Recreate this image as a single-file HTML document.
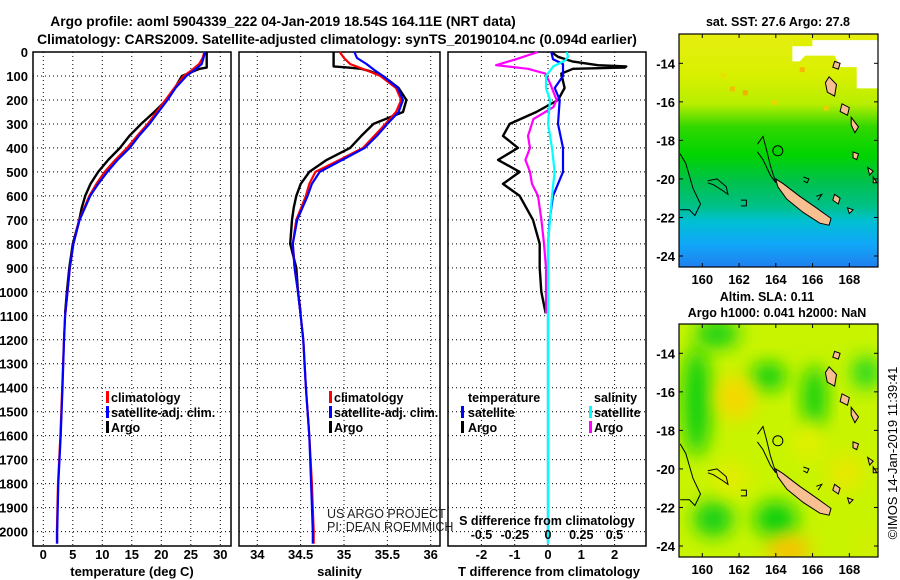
<!DOCTYPE html>
<html><head><meta charset="utf-8"><style>
html,body{margin:0;padding:0;background:#fff;}
svg{display:block;font-family:"Liberation Sans",Arial,sans-serif;}
.b{font-weight:bold;}
</style></head><body>
<svg id="fig" width="900" height="580" viewBox="0 0 900 580" xmlns="http://www.w3.org/2000/svg">
<defs>
<linearGradient id="sstGrad" x1="0" y1="0" x2="0" y2="1">
<stop offset="0" stop-color="#e6ee10"/><stop offset="0.18" stop-color="#d8f000"/><stop offset="0.3" stop-color="#b8ee00"/>
<stop offset="0.4" stop-color="#30d800"/><stop offset="0.52" stop-color="#00d400"/><stop offset="0.64" stop-color="#00c050"/>
<stop offset="0.74" stop-color="#00c088"/><stop offset="0.8" stop-color="#00c0d0"/><stop offset="0.9" stop-color="#10a8f8"/><stop offset="1" stop-color="#2080f0"/>
</linearGradient>
<filter id="blur" x="-50%" y="-50%" width="200%" height="200%"><feGaussianBlur stdDeviation="9"/></filter>
<clipPath id="clipTop"><rect x="679" y="34" width="199" height="233"/></clipPath>
<clipPath id="clipBot"><rect x="679" y="324" width="199" height="233"/></clipPath>
</defs>
<g id="titles">
<text class="b" x="283" y="26" font-size="13.8" text-anchor="middle">Argo profile: aoml 5904339_222 04-Jan-2019 18.54S 164.11E (NRT data)</text>
<text class="b" x="337" y="44" font-size="13.8" text-anchor="middle">Climatology: CARS2009. Satellite-adjusted climatology: synTS_20190104.nc (0.094d earlier)</text>
</g>
<g id="panels"></g>
<g id="maps"></g>
<text x="0" y="0" font-size="13" text-anchor="middle" transform="translate(897,453) rotate(-90)">©IMOS 14-Jan-2019 11:39:41</text>
</svg>
<script>
// ---- depth axis ----
var depthTicks = [0,100,200,300,400,500,600,700,800,900,1000,1100,1200,1300,1400,1500,1600,1700,1800,1900,2000];
// ---- climatology / satellite profile ----
var climDepth = [0,25,50,75,100,150,200,250,300,350,400,450,500,550,600,700,800,900,1000,1100,1200,1400,1600,1800,2000,2050];
var climTemp = [27.3,27.0,26.4,25.2,23.8,22.2,20.7,19.2,17.7,15.9,14.2,12.2,10.4,9.0,7.8,6.1,5.1,4.5,4.1,3.7,3.5,3.2,2.9,2.5,2.3,2.3];
var satTemp = [27.4,27.15,26.85,25.65,24.25,22.4,21.05,19.5,18.0,16.2,14.65,12.6,10.85,9.3,7.95,6.15,5.1,4.5,4.1,3.7,3.5,3.25,2.95,2.55,2.35,2.35];
var climSal = [34.95,35.0,35.07,35.25,35.42,35.6,35.66,35.6,35.48,35.35,35.22,34.95,34.67,34.6,34.56,34.45,34.41,34.43,34.47,34.5,34.53,34.56,34.6,34.63,34.65,34.65];
var satSal = [35.12,35.15,35.26,35.35,35.45,35.62,35.68,35.63,35.5,35.38,35.24,34.98,34.72,34.63,34.58,34.46,34.41,34.43,34.47,34.5,34.53,34.56,34.6,34.62,34.64,34.64];
// ---- Argo profile ----
var argoDepth = [0,10,30,60,65,70,80,100,150,200,250,300,350,400,450,500,550,600,650,700,800,900,1000,1090];
var argoTemp = [27.7,27.7,27.7,27.7,27.7,26.5,25.5,23.5,22.3,20.9,18.8,16.6,14.6,13.0,11.0,9.3,8.0,7.1,6.5,6.1,5.0,4.4,4.0,3.7];
var argoSal = [34.88,34.88,34.88,34.88,35.05,35.2,35.3,35.45,35.63,35.72,35.68,35.34,35.2,35.07,34.8,34.6,34.5,34.45,34.42,34.4,34.38,34.45,34.47,34.5];
// ---- differences from climatology ----
var dTArgoDepth = [0,20,40,55,60,65,70,90,150,200,250,300,350,400,450,500,550,600,700,800,900,1000,1090];
var dTArgo = [0.1,0.3,0.75,1.5,2.35,2.3,0.75,0.4,0.5,0.3,-0.35,-1.15,-1.35,-0.9,-1.5,-0.85,-1.35,-0.85,-0.45,-0.25,-0.25,-0.2,-0.07];
var dTSatDepth = [0,30,50,100,150,200,300,400,500,550,600,700,800,2050];
var dTSat = [0.1,0.15,0.45,0.45,0.2,0.35,0.3,0.45,0.45,0.3,0.15,0.05,0,0];
var dSArgoDepth = [0,30,55,70,90,130,200,230,280,350,400,450,500,550,600,700,800,900,1090];
var dSArgo = [-0.075,-0.24,-0.39,-0.15,-0.02,0.015,0.065,0.04,-0.11,-0.15,-0.135,-0.17,-0.135,-0.12,-0.075,-0.05,-0.03,-0.015,-0.015];
var dSSatDepth = [0,20,35,60,100,150,200,300,400,500,600,700,800,2050];
var dSSat = [0.14,0.15,0.13,0.04,-0.015,-0.015,0.015,0,0.03,0.05,0.03,0.015,0,0];
// ---- tick labels ----
var tempTicks = [0,5,10,15,20,25,30];
var salTicks = [34,34.5,35,35.5,36];
var salTickLabels = ['34','34.5','35','35.5','36'];
var dTTicks = [-2,-1,0,1,2];
var dSTicks = [-0.5,-0.25,0,0.25,0.5];
var dSTickLabels = ['-0.5','-0.25','0','0.25','0.5'];
var latTicks = [-14,-16,-18,-20,-22,-24];
var lonTicks = [160,162,164,166,168];

var NS = 'http://www.w3.org/2000/svg';
function mk(tag, attrs, parent){var e=document.createElementNS(NS,tag);for(var k in attrs)e.setAttribute(k,attrs[k]);parent.appendChild(e);return e;}
var TOP=52, BOT=546;
function yD(d){return TOP + d*0.2398;}
var P1={l:33,r:231}, P2={l:239,r:440}, P3={l:448,r:646};
function xT(t){return 43.3 + t*5.9;}
function xS(s){return 257.3 + (s-34)*86.7;}
function xDT(v){return 548 + v*33.3;}
function xDS(v){return 548 + v*133;}
var panels=document.getElementById('panels');

function frame(P,xTicks,fx,name){
  var g=mk('g',{},panels);
  
  
  depthTicks.forEach(function(d){ if(d>0){var l=mk('line',{x1:P.l,x2:P.r,y1:yD(d),y2:yD(d),stroke:'#000','stroke-width':1,'stroke-dasharray':'1,3'},g);
    
    }});
  xTicks.forEach(function(v){var x=fx(v); if(x>P.l+2&&x<P.r-2){var l=mk('line',{x1:x,x2:x,y1:TOP,y2:BOT,stroke:'#000','stroke-width':1,'stroke-dasharray':'1,3'},g);
    
    }});
  var r=mk('rect',{x:P.l,y:TOP,width:P.r-P.l,height:BOT-TOP,fill:'none',stroke:'#000','stroke-width':1.5},g);
  
  
  return g;
}
function line(g,xs,ds,fx,color,w,name){
  var pts=xs.map(function(v,i){return fx(v).toFixed(1)+','+yD(ds[i]).toFixed(1);}).join(' ');
  var p=mk('polyline',{points:pts,fill:'none',stroke:color,'stroke-width':w,'stroke-linejoin':'round'},g);
  
  
}
function txt(g,x,y,s,opts,name){
  var t=mk('text',{x:x,y:y,'font-size':opts.size||13,'text-anchor':opts.anchor||'start','font-weight':opts.weight||'bold',fill:opts.fill||'#000'},g);
  t.textContent=s;
  
  
  return t;
}
function legendMark(g,x,y,color,name){
  var r=mk('rect',{x:x,y:y-11,width:3,height:12,fill:color},g);
  
  
}

// Panel 1 temperature
var g1=frame(P1,tempTicks,xT,'temperature-panel');
depthTicks.forEach(function(d){txt(g1,28,yD(d)+5,String(d),{anchor:'end'},'depth-tick-label');});
tempTicks.forEach(function(v){txt(g1,xT(v),559,String(v),{anchor:'middle'},'temperature-tick-label');});
txt(g1,(P1.l+P1.r)/2,576,'temperature (deg C)',{anchor:'middle'},'temperature-axis-title');
line(g1,argoTemp,argoDepth,xT,'#000',2.4,'argo-temperature-line');
line(g1,climTemp,climDepth,xT,'#f00',2.2,'climatology-temperature-line');
line(g1,satTemp,climDepth,xT,'#00f',2.2,'satellite-temperature-line');
legendMark(g1,106,402,'#f00','legend-climatology-marker'); txt(g1,111,402,'climatology',{size:12.5},'legend-climatology');
legendMark(g1,106,417,'#00f','legend-satellite-marker'); txt(g1,111,417,'satellite-adj. clim.',{size:12.5},'legend-satellite');
legendMark(g1,106,432,'#000','legend-argo-marker'); txt(g1,111,432,'Argo',{size:12.5},'legend-argo');

// Panel 2 salinity
var g2=frame(P2,salTicks,xS,'salinity-panel');
salTicks.forEach(function(v,i){txt(g2,xS(v),559,salTickLabels[i],{anchor:'middle'},'salinity-tick-label');});
txt(g2,(P2.l+P2.r)/2,576,'salinity',{anchor:'middle'},'salinity-axis-title');
line(g2,argoSal,argoDepth,xS,'#000',2.4,'argo-salinity-line');
line(g2,climSal,climDepth,xS,'#f00',2.2,'climatology-salinity-line');
line(g2,satSal,climDepth,xS,'#00f',2.2,'satellite-salinity-line');
legendMark(g2,329,402,'#f00','legend-climatology-marker'); txt(g2,334,402,'climatology',{size:12.5},'legend-climatology');
legendMark(g2,329,417,'#00f','legend-satellite-marker'); txt(g2,334,417,'satellite-adj. clim.',{size:12.5},'legend-satellite');
legendMark(g2,329,432,'#000','legend-argo-marker'); txt(g2,334,432,'Argo',{size:12.5},'legend-argo');
txt(g2,327,518,'US ARGO PROJECT',{size:12.5,weight:'normal',fill:'#222'},'credit-project');
txt(g2,327,531,'PI: DEAN ROEMMICH',{size:12.5,weight:'normal',fill:'#222'},'credit-pi');

// Panel 3 differences
var g3=frame(P3,dTTicks,xDT,'difference-panel');
dTTicks.forEach(function(v){txt(g3,xDT(v),559,String(v),{anchor:'middle'},'t-difference-tick-label');});
txt(g3,(P3.l+P3.r)/2+2,576,'T difference from climatology',{anchor:'middle'},'t-difference-axis-title');
line(g3,dTArgo,dTArgoDepth,xDT,'#000',2.4,'argo-t-difference-line');
line(g3,dSArgo,dSArgoDepth,xDS,'#f0f',2.2,'argo-s-difference-line');
line(g3,dTSat,dTSatDepth,xDT,'#00f',2.2,'satellite-t-difference-line');
line(g3,dSSat,dSSatDepth,xDS,'#0ff',2.2,'satellite-s-difference-line');
txt(g3,547,525,'S difference from climatology',{anchor:'middle',size:12.5},'s-difference-axis-title');
dSTicks.forEach(function(v,i){txt(g3,xDS(v),539,dSTickLabels[i],{anchor:'middle',size:12.5},'s-difference-tick-label');});
txt(g3,468,402,'temperature',{size:12.5},'legend-temperature-heading');
txt(g3,594,402,'salinity',{size:12.5},'legend-salinity-heading');
legendMark(g3,461,417,'#00f','legend-t-satellite-marker'); txt(g3,468,417,'satellite',{size:12.5},'legend-t-satellite');
legendMark(g3,461,432,'#000','legend-t-argo-marker'); txt(g3,468,432,'Argo',{size:12.5},'legend-t-argo');
legendMark(g3,589,417,'#0ff','legend-s-satellite-marker'); txt(g3,594,417,'satellite',{size:12.5},'legend-s-satellite');
legendMark(g3,589,432,'#f0f','legend-s-argo-marker'); txt(g3,594,432,'Argo',{size:12.5},'legend-s-argo');

// ---- maps ----
var maps=document.getElementById('maps');
function lonX(lon){return 702.3+(lon-160)*18.38;}
function latY(lat,off){return off+63.3+(-14-lat)*19.27;}
var islands=[
 [[164.0,-20.0],[164.4,-20.25],[165.3,-20.9],[166.2,-21.5],[167.0,-22.05],[166.9,-22.4],[166.4,-22.3],[165.5,-21.75],[164.6,-21.05],[164.1,-20.4]],
 [[166.9,-14.7],[167.3,-15.1],[167.2,-15.7],[166.8,-15.5],[166.7,-15.0]],
 [[167.6,-16.1],[168.0,-16.3],[167.9,-16.7],[167.5,-16.5]],
 [[168.1,-16.8],[168.5,-17.3],[168.3,-17.6],[168.1,-17.2]],
 [[168.2,-18.6],[168.5,-18.7],[168.4,-19.0],[168.2,-18.9]],
 [[169.0,-19.4],[169.3,-19.6],[169.1,-19.8]],
 [[169.3,-19.9],[169.5,-20.2],[169.3,-20.2]],
 [[167.2,-20.8],[167.5,-21.0],[167.4,-21.3],[167.1,-21.1]],
 [[167.9,-21.5],[168.2,-21.6],[168.0,-21.8]],
 [[167.2,-13.9],[167.5,-14.0],[167.4,-14.3],[167.1,-14.2]]
];
var contours=[
 [[158.8,-18.7],[159.1,-19.2],[159.5,-20.5],[159.9,-21.3],[159.6,-21.9],[159.3,-21.6],[158.8,-21.6]],
 [[163.0,-18.2],[163.3,-17.8],[163.5,-18.5],[163.7,-19.3],[163.9,-19.9],[164.0,-20.2],[163.7,-19.8],[163.3,-19.0],[163.0,-18.6]],
 [[160.3,-20.1],[160.8,-20.0],[161.3,-20.4],[161.4,-20.8],[161.1,-20.6],[160.6,-20.3],[160.3,-20.2]],
 [[162.1,-21.1],[162.4,-21.1],[162.4,-21.4],[162.1,-21.4]],
 [[165.5,-19.9],[165.8,-20.0],[165.7,-20.2],[165.5,-20.1]],
 [[166.2,-20.9],[166.5,-20.8],[166.3,-21.1]]
];
function drawMap(off,clipId,isSST,name){
  var g=mk('g',{},maps);
  
  
  var c=mk('g',{'clip-path':'url(#'+clipId+')'},g);
  if(isSST){
    mk('rect',{x:679,y:off+34,width:199,height:233,fill:'url(#sstGrad)'},c);
    var sp=[[161.5,-15.2,'#f0c000'],[162.2,-15.4,'#f0b000'],[165.3,-14.2,'#f8b800'],[163.8,-15.9,'#e8d800'],[166.6,-16.2,'#e8d000'],[161,-14.5,'#e8e000']];
    sp.forEach(function(s){mk('rect',{x:lonX(s[0]),y:latY(s[1],off),width:5,height:5,fill:s[2]},c);});
    mk('polygon',{points:[[164.9,-12.8],[169.6,-12.8],[169.6,-15.3],[168.4,-15.3],[168.4,-14.2],[167.5,-14.2],[167.2,-13.6],[165.6,-13.6],[165.3,-13.9],[164.9,-13.9]].map(function(p){return lonX(p[0])+','+latY(p[1],off);}).join(' '),fill:'#fff'},c);
    mk('rect',{x:lonX(164.9),y:latY(-12.75,off)-1,width:20,height:8,fill:'#e0f000'},c);
  } else {
    mk('rect',{x:679,y:off+34,width:199,height:233,fill:'#c8f400'},c);
    var bl=[[159.7,-16.5,14,55,'#10d010'],[160.8,-13,22,14,'#18d018'],[163.6,-15.2,18,14,'#10d010'],[166.1,-16.3,12,32,'#10d010'],[164.0,-22.6,22,18,'#10d010'],[160.6,-22.6,20,18,'#18d018'],[168.9,-15,14,16,'#20d820'],[161.8,-16.3,20,22,'#f4d800'],[164.7,-24.2,22,14,'#f8c000'],[167.8,-20.2,18,18,'#e8e800'],[161.6,-20.5,18,16,'#e4ec00'],[165.8,-18.6,16,20,'#e0f000'],[169,-24,18,18,'#d0f000']];
    bl.forEach(function(b){mk('ellipse',{cx:lonX(b[0]),cy:latY(b[1],off),rx:b[2],ry:b[3],fill:b[4],filter:'url(#blur)'},c);});
  }
  islands.forEach(function(isl){var p=mk('polygon',{points:isl.map(function(q){return lonX(q[0]).toFixed(1)+','+latY(q[1],off).toFixed(1);}).join(' '),fill:'#f8c090',stroke:'#000','stroke-width':1},c);
    
    });
  contours.forEach(function(cl){mk('polyline',{points:cl.map(function(q){return lonX(q[0]).toFixed(1)+','+latY(q[1],off).toFixed(1);}).join(' '),fill:'none',stroke:'#000','stroke-width':1},c);});
  var ci=mk('circle',{cx:lonX(164.11),cy:latY(-18.54,off),r:5,fill:'none',stroke:'#000','stroke-width':1},c);
  
  
  mk('rect',{x:679,y:off+34,width:199,height:233,fill:'none',stroke:'#000','stroke-width':1.2},g);
  latTicks.forEach(function(l){var y=latY(l,off);
    mk('line',{x1:679,x2:683,y1:y,y2:y,stroke:'#000'},g);mk('line',{x1:874,x2:878,y1:y,y2:y,stroke:'#000'},g);
    txt(g,675,y+5,String(l),{anchor:'end',size:13},'latitude-tick-label');});
  lonTicks.forEach(function(l){var x=lonX(l);
    mk('line',{x1:x,x2:x,y1:off+263,y2:off+267,stroke:'#000'},g);mk('line',{x1:x,x2:x,y1:off+34,y2:off+38,stroke:'#000'},g);
    txt(g,x,off+284,String(l),{anchor:'middle',size:13},'longitude-tick-label');});
}
drawMap(0,'clipTop',true,'sst-map');
drawMap(290,'clipBot',false,'sla-map');
var mt=document.getElementById('maps');
txt(mt,778,26,'sat. SST: 27.6 Argo: 27.8',{anchor:'middle',size:12.5},'sst-map-title');
txt(mt,767,301,'Altim. SLA: 0.11',{anchor:'middle',size:12.5},'sla-map-title');
txt(mt,777,317,'Argo h1000: 0.041 h2000: NaN',{anchor:'middle',size:12.5},'sla-map-subtitle');
</script>
</body></html>
